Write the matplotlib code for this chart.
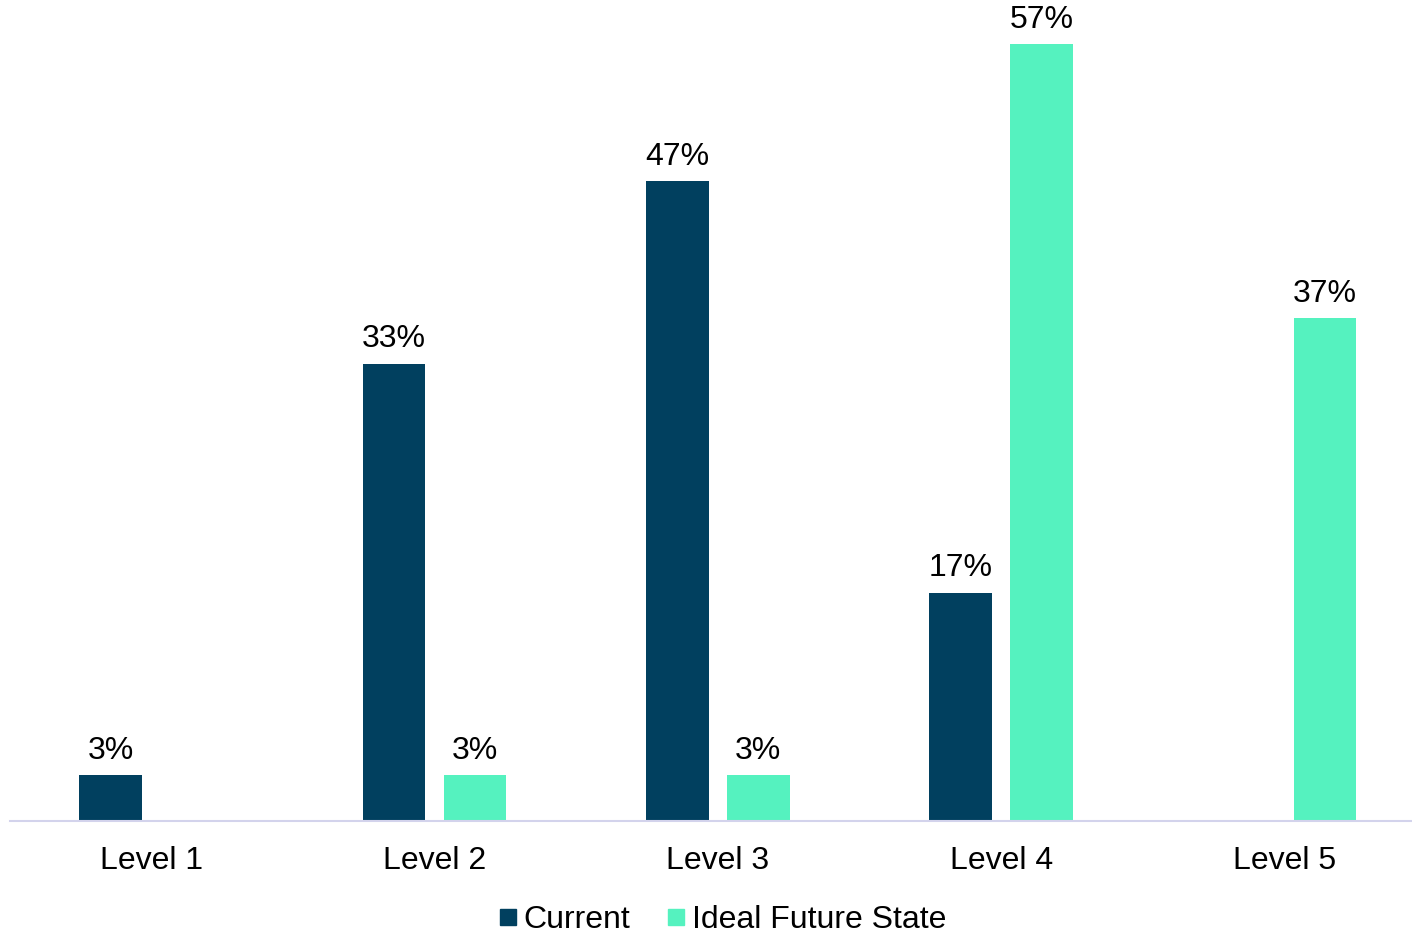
import matplotlib
matplotlib.use("Agg")
import matplotlib.pyplot as plt
from matplotlib.lines import Line2D
import numpy as np

plt.rcParams["font.family"] = ["Liberation Sans", "DejaVu Sans"]

levels = ["Level 1", "Level 2", "Level 3", "Level 4", "Level 5"]
# shares of 30 respondents, labels shown rounded
current = [3.33, 33.33, 46.67, 16.67, None]
ideal = [None, 3.33, 3.33, 56.67, 36.67]

series_names = ["Current", "Ideal Future State"]
colors = ["#01405F", "#55F2BF"]

fig = plt.figure(figsize=(14.12, 9.34), dpi=100)
ax = fig.add_axes([0.0071, 0.121, 0.9929, 0.876])

x = np.arange(len(levels))
width = 0.222
offset = 0.143

for values, shift, color in ((current, -offset, colors[0]), (ideal, offset, colors[1])):
    for xi, v in zip(x, values):
        if v is None:
            continue
        ax.bar(xi + shift, v, width=width, color=color)
        ax.annotate(f"{v:.0f}%", (xi + shift, v), xytext=(0, 7), textcoords="offset points",
                    ha="center", va="bottom", fontsize=23, color="black", annotation_clip=False)

ax.set_xlim(-0.498, 4.45)
ax.set_ylim(0, 59.7)
ax.set_xticks(x)
ax.set_xticklabels(levels, fontsize=23)
ax.tick_params(axis="x", length=0, pad=18)
ax.set_yticks([])
for side in ("top", "right", "left"):
    ax.spines[side].set_visible(False)
ax.spines["bottom"].set_color("#D3D3EC")
ax.spines["bottom"].set_linewidth(1.5)

handles = [Line2D([], [], marker="s", linestyle="none", markersize=11, color=c) for c in colors]
fig.legend(handles, series_names, loc="center", bbox_to_anchor=(0.512, 0.015), ncol=2,
           frameon=False, fontsize=23, handlelength=0.5, handletextpad=0.23,
           columnspacing=1.2, borderaxespad=0, borderpad=0)

fig.savefig("out.png", dpi=100)
plt.close(fig)
